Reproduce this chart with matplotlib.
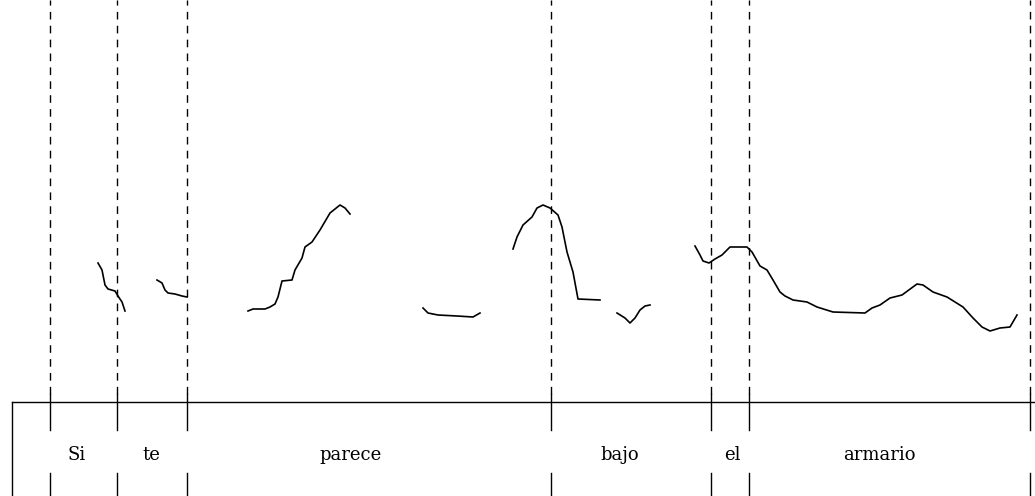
import matplotlib
matplotlib.use("Agg")
import matplotlib.pyplot as plt

# word boundaries (time, px units) and labels
boundaries = [50, 117, 187, 551, 711, 749, 1030]
words = ["Si", "te", "parece", "bajo", "el", "armario"]
word_x = [77, 151, 351, 620, 732, 879]

# pitch contour segments: (time, f0) pairs, f0 in plot height units
seg_si_time = [98, 102, 105, 108, 115, 118, 122, 125]
seg_si_f0 = [233, 226, 211, 207, 205, 200, 194, 185]

seg_te_time = [157, 162, 165, 168, 175, 182, 187]
seg_te_f0 = [216, 213, 206, 203, 202, 200, 199]

seg_parece1_time = [248, 253, 265, 270, 275, 278, 282, 292, 295, 302, 305,
                    312, 320, 330, 340, 345, 350]
seg_parece1_f0 = [185, 187, 187, 189, 192, 199, 215, 216, 226, 238, 249,
                  254, 266, 283, 291, 288, 282]

seg_parece2_time = [423, 428, 438, 457, 473, 480]
seg_parece2_f0 = [188, 183, 181, 180, 179, 183]

seg_bajo1_time = [513, 517, 523, 532, 537, 543, 550, 558, 562, 567, 570, 573,
                  578, 600]
seg_bajo1_f0 = [247, 259, 271, 279, 288, 291, 288, 281, 269, 244, 234, 224,
                197, 196]

seg_bajo2_time = [617, 625, 630, 635, 640, 645, 650]
seg_bajo2_f0 = [183, 178, 173, 178, 186, 190, 191]

seg_armario_time = [695, 700, 703, 709, 715, 722, 730, 747, 752, 760, 767,
                    773, 780, 785, 793, 807, 817, 833, 865, 872, 880, 890,
                    902, 917, 923, 933, 947, 963, 973, 982, 990, 1000, 1010,
                    1017]
seg_armario_f0 = [250, 241, 235, 233, 237, 241, 249, 249, 244, 230, 226,
                  216, 204, 200, 196, 194, 189, 184, 183, 188, 191, 198,
                  201, 212, 211, 204, 199, 189, 178, 169, 165, 168, 169,
                  181]

segments = [
    (seg_si_time, seg_si_f0),
    (seg_te_time, seg_te_f0),
    (seg_parece1_time, seg_parece1_f0),
    (seg_parece2_time, seg_parece2_f0),
    (seg_bajo1_time, seg_bajo1_f0),
    (seg_bajo2_time, seg_bajo2_f0),
    (seg_armario_time, seg_armario_f0),
]

fig = plt.figure(figsize=(10.35, 4.96), dpi=100)
ax = fig.add_axes([0, 0, 1, 1])
ax.set_xlim(0, 1035)
ax.set_ylim(0, 496)
ax.axis("off")

box_left = 11.7
box_top = 94.5

# dashed boundary lines above the tier
for b in boundaries:
    ax.plot([b, b], [102, 496], color="black", lw=1.0,
            linestyle=(0, (5.5, 4.5)))
    # solid ticks inside the text tier
    ax.plot([b, b], [66, 102], color="black", lw=1.0)
    ax.plot([b, b], [0, 23], color="black", lw=1.0)

# tier box
ax.plot([box_left, 1035], [box_top, box_top], color="black", lw=1.0)
ax.plot([box_left, box_left], [0, box_top], color="black", lw=1.0)

# pitch contour
for t, f in segments:
    ax.plot(t, f, color="black", lw=1.2)

for w, x in zip(words, word_x):
    ax.text(x, 41, w, ha="center", va="center", fontsize=13,
            family="DejaVu Serif")

fig.savefig("out.png", dpi=100)
